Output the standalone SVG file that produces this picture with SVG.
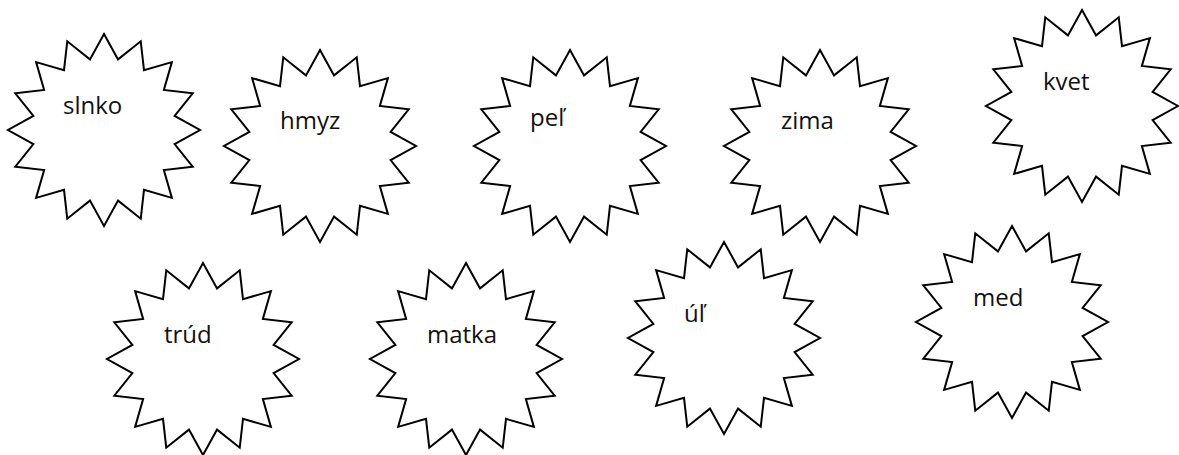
<svg xmlns="http://www.w3.org/2000/svg" xmlns:xlink="http://www.w3.org/1999/xlink" width="1179" height="455" viewBox="0 0 1179 455">
  <style>
    .star { fill: #ffffff; stroke: #000000; stroke-width: 2; stroke-linejoin: miter; }
    .lbl { font-family: "Open Sans", "Liberation Sans", sans-serif; font-size: 24px; fill: #111111; }
  </style>
  <defs>
    <polygon id="star16" class="star" points="0,-96 14.05,-70.62 36.74,-88.69 40,-59.87 67.88,-67.88 59.87,-40 88.69,-36.74 70.62,-14.05 96,0 70.62,14.05 88.69,36.74 59.87,40 67.88,67.88 40,59.87 36.74,88.69 14.05,70.62 0,96 -14.05,70.62 -36.74,88.69 -40,59.87 -67.88,67.88 -59.87,40 -88.69,36.74 -70.62,14.05 -96,0 -70.62,-14.05 -88.69,-36.74 -59.87,-40 -67.88,-67.88 -40,-59.87 -36.74,-88.69 -14.05,-70.62"/>
  </defs>
  <rect width="1179" height="455" fill="#ffffff"/>
  <g id="connectors"/>
  <g id="node-slnko">
    <use href="#star16" xlink:href="#star16" x="104" y="130"/>
    <text class="lbl" x="63" y="114">slnko</text>
  </g>
  <g id="node-hmyz">
    <use href="#star16" xlink:href="#star16" x="320" y="146"/>
    <text class="lbl" x="280" y="129">hmyz</text>
  </g>
  <g id="node-pel">
    <use href="#star16" xlink:href="#star16" x="570" y="146"/>
    <text class="lbl" x="530" y="126">peľ</text>
  </g>
  <g id="node-zima">
    <use href="#star16" xlink:href="#star16" x="820" y="146"/>
    <text class="lbl" x="781" y="129">zima</text>
  </g>
  <g id="node-kvet">
    <use href="#star16" xlink:href="#star16" x="1082" y="106"/>
    <text class="lbl" x="1043" y="90">kvet</text>
  </g>
  <g id="node-trud">
    <use href="#star16" xlink:href="#star16" x="203" y="359"/>
    <text class="lbl" x="164" y="343">trúd</text>
  </g>
  <g id="node-matka">
    <use href="#star16" xlink:href="#star16" x="466" y="359"/>
    <text class="lbl" x="427" y="343">matka</text>
  </g>
  <g id="node-ul">
    <use href="#star16" xlink:href="#star16" x="724" y="338"/>
    <text class="lbl" x="684" y="322">úľ</text>
  </g>
  <g id="node-med">
    <use href="#star16" xlink:href="#star16" x="1012" y="322"/>
    <text class="lbl" x="973" y="306">med</text>
  </g>
</svg>
